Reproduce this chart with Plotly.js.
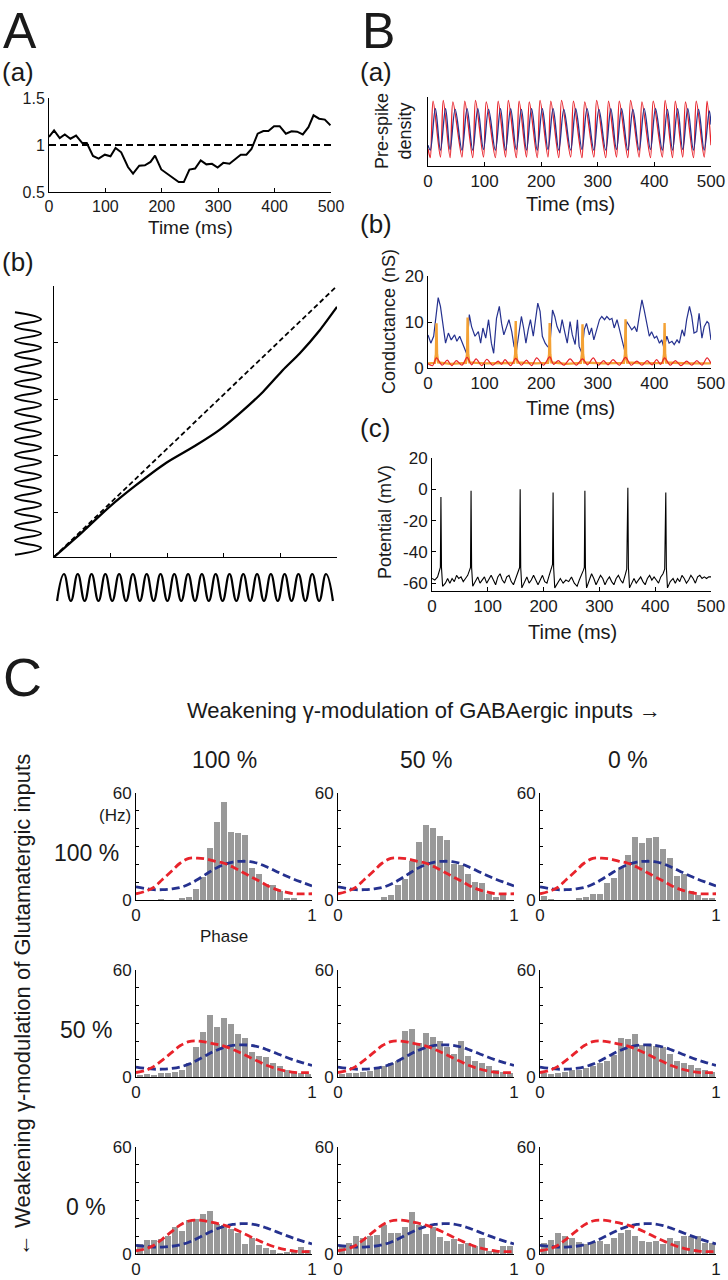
<!DOCTYPE html>
<html><head><meta charset="utf-8">
<script src="https://cdn.plot.ly/plotly-3.0.1.min.js"></script>
<style>html,body{margin:0;padding:0;background:#fff}#chart{width:728px;height:1280px}</style>
</head><body><div id="chart"></div>
<script>
// ---------------- DATA ----------------
// A(a): ratio vs time
const aaTime = [0,9,19,28,38,48,59,67,78,88,99,109,118,128,140,149,160,170,180,188,199,208,218,230,239,249,259,269,279,289,299,309,320,330,340,350,359,370,380,389,399,409,420,430,440,450,460,469,479,489,499];
const aaRatio = [1.085,1.156,1.074,1.113,1.067,1.10,1.02,1.02,0.883,0.855,0.897,0.88,0.968,0.922,0.766,0.695,0.78,0.784,0.82,0.887,0.74,0.70,0.66,0.606,0.606,0.738,0.75,0.837,0.794,0.80,0.76,0.81,0.80,0.844,0.897,0.897,0.957,1.12,1.149,1.149,1.20,1.20,1.12,1.145,1.142,1.113,1.19,1.316,1.28,1.27,1.21];
const aaRef = 1;
const aaTimeRange = [0, 500];
const aaTicksX = [0,100,200,300,400,500];
const aaTicksY = [0.5,1,1.5];
const aaTickTextY = ['0.5','1','1.5'];

// A(b): input-output phase map (normalised)
const abIn  = [0,0.102,0.197,0.291,0.397,0.503,0.585,0.656,0.739,0.809,0.868,0.939,1.0];
const abOut = [0,0.094,0.186,0.266,0.348,0.413,0.469,0.530,0.610,0.690,0.751,0.837,0.923];
const abDiag = [0, 1];
const abTicksX = [0,0.2,0.4,0.6,0.8,1];
const abTicksY = [0.166,0.374,0.583,0.791];
// schematic oscillations (extrema sequence)
const lwPos = [0,1,2,3,4,5,6,7,8,9,10,11,12,13,14,15,16,17,18,19,20,21,22,23,24,25,26,27,28,29,30,31,32,33,34];
const lwAmp = [-1,1,-1,1,-1,1,-1,1,-1,1,-1,1,-1,1,-1,1,-1,1,-1,1,-1,1,-1,1,-1,1,-1,1,-1,1,-1,1,-1,1,-1];
const bwPos = [0,1,2,3,4,5,6,7,8,9,10,11,12,13,14,15,16,17,18,19,20,21,22,23,24,25,26,27,28,29,30,31,32,33,34,35,36,37,38,39,40];
const bwAmp = [-1,1,-1,1,-1,1,-1,1,-1,1,-1,1,-1,1,-1,1,-1,1,-1,1,-1,1,-1,1,-1,1,-1,1,-1,1,-1,1,-1,1,-1,1,-1,1,-1,1,-1];

// B(a): pre-spike density (normalised)
const baRedT = [0,4,9,22,27,39,44,60,65,79,84,98,103,119,124,137,142,156,161,174,179,193,198,212,217,231,236,252,257,272,277,293,298,314,319,333,338,353,358,373,378,393,398,414,419,432,437,450,455,469,474,488,493,500];
const baRedV = [0.25,0.12,0.94,0.13,0.95,0.12,0.93,0.13,0.94,0.12,0.95,0.13,0.93,0.12,0.94,0.13,0.95,0.12,0.94,0.13,0.93,0.12,0.95,0.13,0.94,0.12,0.95,0.13,0.94,0.12,0.93,0.13,0.95,0.12,0.94,0.13,0.94,0.12,0.95,0.13,0.93,0.12,0.94,0.13,0.95,0.12,0.94,0.13,0.93,0.12,0.94,0.13,0.94,0.30];
const baBlueT = [0,4,13,22,31,39,48,60,69,79,88,98,107,119,128,137,146,156,165,174,183,193,202,212,221,231,240,252,261,272,281,293,302,314,323,333,342,353,362,373,382,393,402,414,423,432,441,450,459,469,478,488,497,500];
const baBlueV = [0.30,0.23,0.83,0.23,0.83,0.24,0.82,0.23,0.83,0.23,0.83,0.24,0.82,0.23,0.83,0.23,0.83,0.24,0.82,0.23,0.83,0.23,0.83,0.24,0.83,0.23,0.82,0.23,0.83,0.24,0.83,0.23,0.82,0.23,0.83,0.24,0.83,0.23,0.82,0.23,0.83,0.24,0.83,0.23,0.82,0.23,0.83,0.24,0.83,0.23,0.82,0.23,0.80,0.60];

// B(b): conductances (nS)
const bbBlueT = [0,5,10,15,18,22,27,31,36,41,47,51,56,61,68,73,77,83,89,93,97,102,107,112,116,121,126,130,134,139,143,148,152,156,161,165,169,173,177,181,186,190,194,198,202,207,211,215,220,224,228,233,237,242,246,251,255,260,264,267,272,276,280,285,289,293,298,303,307,312,316,321,325,329,334,338,342,347,351,356,360,365,369,374,378,382,387,391,395,400,404,409,413,417,422,426,431,435,440,444,449,453,457,462,466,470,475,479,484,488,493,496,500];
const bbBlueV = [7.2,5.4,6.9,12.6,15.3,13.4,9.0,5.4,7.6,6.1,7.2,5.8,6.9,5.4,3.2,11.6,9.0,6.9,7.9,5.4,8.7,6.5,10.5,5.4,3.2,10.8,13.4,9.7,7.2,9.0,10.5,7.9,4.7,3.6,7.6,11.2,8.7,5.4,8.3,10.5,6.9,10.5,14.1,12.3,6.9,5.4,4.7,4.3,12.6,11.2,9.0,7.6,10.5,7.6,5.4,10.1,7.2,5.1,10.5,4.7,3.2,8.3,9.7,7.2,8.7,6.1,8.3,10.5,11.2,10.5,11.2,10.5,10.8,8.7,10.5,8.3,6.1,4.0,10.1,9.0,8.3,9.0,7.9,11.9,14.8,12.6,9.0,6.9,7.9,6.5,6.9,5.4,6.1,4.3,6.9,5.4,5.8,5.1,6.1,5.4,8.3,6.9,10.5,13.4,11.2,7.6,7.9,11.9,6.5,9.0,10.1,9.7,6.1];
const bbRedT = [0,8,15,25,34,42,50,60,69,77,85,95,104,114,124,130,136,146,155,165,174,183,192,204,215,222,230,240,251,262,273,282,292,301,310,318,327,338,349,359,369,378,387,396,404,411,418,428,437,447,457,466,475,484,493,500];
const bbRedV = [0.9,0.5,2.2,0.6,1.7,0.5,1.6,0.6,2.3,0.7,2.0,0.5,1.9,0.6,1.5,0.8,1.8,0.5,2.1,0.6,1.7,0.5,2.2,0.6,2.4,0.8,1.6,0.6,2.0,0.6,2.0,0.7,2.2,0.6,1.6,0.7,1.8,0.6,2.3,0.6,1.5,0.6,1.6,0.7,1.8,0.8,2.2,0.6,1.6,0.5,1.5,0.6,1.6,0.6,2.2,1.0];
const bbOrT = [0,12,14,15,16,18,40,67,69,70,71,73,100,152,154,155,156,158,190,212,214,215,216,218,245,270,272,273,274,276,310,346,348,349,350,352,385,415,417,418,419,421,460,500];
const bbOrV = [1.0,1.1,3,9.7,3,1.2,0.9,1.1,3,11.0,3,1.2,1.0,1.1,3,10.2,3,1.2,1.0,1.1,3,9.8,3,1.2,0.9,1.1,3,9.5,3,1.2,1.0,1.1,3,10.6,3,1.2,1.0,1.1,3,9.8,3,1.2,1.0,1.0];

// B(c): membrane potential (mV)
const bcT = [0,5,10,13,15,16,17,19,24,28,32,36,40,44,48,52,56,60,64,67,69,70,71,73,78,82,86,90,94,98,102,106,110,114,118,122,126,130,134,138,142,146,150,154,157,158,159,161,166,170,174,178,182,186,190,194,198,202,206,210,214,216,217,218,220,225,230,235,240,245,250,255,260,264,268,271,273,274,275,277,282,286,290,294,298,302,306,310,314,318,322,326,330,334,338,342,346,349,351,352,354,358,362,366,370,374,378,382,386,390,394,398,402,406,410,414,417,419,420,422,427,432,436,440,444,448,452,456,460,464,468,472,476,480,484,488,492,496,500];
const bcV = [-57,-58,-56,-53,-50,-5,-50,-62,-60,-57,-60,-57,-59,-55,-57,-56,-59,-57,-55,-52,-50,-1,-50,-62,-59,-56,-60,-58,-56,-60,-57,-55,-58,-61,-56,-54,-58,-60,-56,-55,-59,-61,-57,-53,-50,0,-50,-63,-59,-56,-60,-58,-55,-58,-61,-58,-55,-59,-60,-55,-51,-48,-2,-50,-63,-60,-57,-60,-58,-59,-56,-60,-62,-58,-55,-52,-50,-1,-50,-63,-58,-54,-57,-61,-58,-55,-57,-61,-58,-56,-59,-61,-57,-55,-58,-60,-55,-51,1,-50,-63,-60,-57,-60,-58,-56,-59,-61,-57,-55,-58,-56,-58,-60,-56,-54,-51,-2,-50,-63,-59,-57,-60,-57,-59,-55,-57,-60,-58,-55,-57,-60,-56,-55,-57,-56,-57,-56,-56];
const timeTicks = [0,100,200,300,400,500];

// C: phase histograms (Hz), 25 bins
const phaseBins = [0.02,0.06,0.10,0.14,0.18,0.22,0.26,0.30,0.34,0.38,0.42,0.46,0.50,0.54,0.58,0.62,0.66,0.70,0.74,0.78,0.82,0.86,0.90,0.94,0.98];
const c11 = [0,0,0,0.5,0,0,1.2,1.8,6,13,29,44,55,38,37.5,36.5,18,14.5,9,8.5,4.8,1.2,1.2,0,0];
const c12 = [0,0,0,0,0,0,1.8,3,8.3,11.5,21.7,32.6,41.8,40.6,35.8,33.5,20.3,19.4,14.6,10,9.7,3.5,1.8,2.6,0];
const c13 = [2.3,0.5,0,0,0,1,1.8,3.2,3.2,9.7,12.3,18,25.2,35.3,31.7,34.9,35.3,28.6,23.8,13.2,14.6,4.8,3,1.2,1.2];
const c21 = [1,1.5,1,2,2,3,4,8,17,25,35,28,33,29.5,24,22,14,12,11,8,6,4,3,2,1.5];
const c22 = [1.5,2,2.5,3,3.5,5,6,8,9,25.8,26.7,19.2,24.5,22.2,20.2,16.6,13,20.2,12,9,8,6,4,3,2.5];
const c23 = [2,1.5,2.5,3,4,4,5,6,8,9,12.3,21.7,21.3,24,18,18.3,17.6,17,12.7,9,8,7,5,4,3];
const c31 = [5.4,7.7,7.7,8.4,10.2,14.9,13.1,18.8,19.7,22.4,24.2,17,16.1,13.8,11.6,5.7,9,4.8,3.6,2.3,0.5,0.9,2.3,4.1,2.2];
const c32 = [4.5,6.3,9.9,9,10.2,10.8,16.1,11.6,11.6,15.2,23.3,16.1,11.3,15.2,9.5,7.2,8.4,5.4,5.9,4.5,9,1.8,0.9,4.5,4.5];
const c33 = [5.9,8.1,12,9.9,9,6.6,5.4,6.6,7.2,5.7,9,12,13.4,9.9,7.2,6.6,7.5,5.7,9,7.2,9.9,9.9,10.2,6.3,6.3];
// input modulation curves (Hz) at phases 0..1
const curvePhase = [0,0.05,0.1,0.15,0.2,0.25,0.3,0.35,0.4,0.45,0.5,0.55,0.6,0.65,0.7,0.75,0.8,0.85,0.9,0.95,1];
const red1  = [3.5,4.8,7,11.5,16,20.6,23.3,23.5,23,21.7,20.6,18.5,15.9,13.2,10.6,7.9,5.8,4.4,3.5,3.4,3.5];
const blue1 = [7.4,6.5,5.8,5.8,6.2,7,8.8,11.5,14.6,17.6,19.9,21.3,21.7,21.5,20.3,18.2,15.9,13.6,11.5,9.7,7.9];
const red2  = [2.5,3.6,5.8,9.5,13.5,17.5,19.8,20.2,19.5,18.5,17.3,15.5,13.2,10.8,8.5,6.3,4.6,3.4,2.6,2.4,2.5];
const blue2 = [5.6,4.9,4.4,4.4,4.8,5.6,7.2,9.5,12.2,14.7,16.6,17.7,18,17.8,16.8,15.1,13.2,11.2,9.4,7.9,6.5];
const red3  = [1.8,2.8,4.8,8.4,12.4,16.2,18.5,19.0,18.4,17.4,16.2,14.4,12.1,9.7,7.4,5.3,3.6,2.4,1.6,1.3,1.3];
const blue3 = [4.8,4.3,3.9,3.9,4.3,5.1,6.6,8.8,11.3,13.7,15.5,16.6,17.0,16.9,15.9,14.3,12.4,10.5,8.7,7.1,5.7];
const hzTicks = [0,10,20,30,40,50,60];
const hzTickText = ['0','','','','','','60'];
const phaseTicks = [0,1];
const phaseTickText = ['0','1'];
const colLabels = ['100 %','50 %','0 %'];
const rowLabels = ['100 %','50 %','0 %'];

// ---------------- LAYOUT HELPERS ----------------
const W = 728, H = 1280;
const FONT = 'Liberation Sans, Arial, Helvetica, sans-serif';
const TXT = '#1a1a1a';
const RED = '#e8232b', BLUE = '#25318f', ORANGE = '#f4a235';
function dx(a,b){ return [a/W, b/W]; }
function dy(top,bottom){ return [1-bottom/H, 1-top/H]; }
function tf(s){ return {family:FONT, size:s, color:TXT}; }
function ax(o){
  return Object.assign({showgrid:false, zeroline:false, showline:true, linecolor:'#000', linewidth:1,
    ticks:'inside', ticklen:4, tickwidth:1, tickcolor:'#000',
    tickfont:tf(16), fixedrange:true, tickmode:'array'}, o);
}
function ann(text, px, py, size, extra){
  return Object.assign({text:text, x:px/W, y:1-py/H, xref:'paper', yref:'paper', showarrow:false,
    font:tf(size), xanchor:'center', yanchor:'middle'}, extra||{});
}

const traces = [];
const layout = {width:W, height:H, margin:{l:0,r:0,t:0,b:0}, paper_bgcolor:'#fff', plot_bgcolor:'rgba(0,0,0,0)',
  showlegend:false, annotations:[], bargap:0};

function setAxes(n, xo, yo){
  const xs = n===1 ? 'xaxis' : 'xaxis'+n, ys = n===1 ? 'yaxis' : 'yaxis'+n;
  const xa = n===1 ? 'x' : 'x'+n, ya = n===1 ? 'y' : 'y'+n;
  layout[xs] = ax(Object.assign({anchor:ya}, xo));
  layout[ys] = ax(Object.assign({anchor:xa}, yo));
  return [xa, ya];
}

// ---- A(a)
let [xa, ya] = setAxes(1,
  {domain:dx(49,331), range:aaTimeRange, tickvals:aaTicksX, tickfont:tf(16)},
  {domain:dy(98,192), range:[0.5,1.5], tickvals:aaTicksY, ticktext:aaTickTextY, tickfont:tf(16)});
traces.push({type:'scatter', mode:'lines', x:aaTimeRange, y:[aaRef,aaRef], xaxis:xa, yaxis:ya, line:{color:'#000', width:1.8, dash:'7px,4px'}});
traces.push({type:'scatter', mode:'lines', x:aaTime, y:aaRatio, xaxis:xa, yaxis:ya, line:{color:'#000', width:2}});

// ---- A(b)
[xa, ya] = setAxes(2,
  {domain:dx(54,337), range:[0,1], tickvals:abTicksX, showticklabels:false},
  {domain:dy(286,557), range:[0,1], tickvals:abTicksY, showticklabels:false});
traces.push({type:'scatter', mode:'lines', x:abDiag, y:abDiag, xaxis:xa, yaxis:ya, line:{color:'#000', width:1.8, dash:'5px,3px'}});
traces.push({type:'scatter', mode:'lines', x:abIn, y:abOut, xaxis:xa, yaxis:ya, line:{color:'#000', width:2.3, shape:'spline', smoothing:0.6}});

[xa, ya] = setAxes(3, {domain:dx(13,43), range:[-1.15,1.15], visible:false}, {domain:dy(310,557), range:[-0.3,34.3], visible:false});
traces.push({type:'scatter', mode:'lines', x:lwAmp, y:lwPos, xaxis:xa, yaxis:ya, line:{color:'#000', width:2, shape:'spline', smoothing:1.3}});
[xa, ya] = setAxes(4, {domain:dx(55,335), range:[-0.3,40.3], visible:false}, {domain:dy(572,603), range:[-1.15,1.15], visible:false});
traces.push({type:'scatter', mode:'lines', x:bwPos, y:bwAmp, xaxis:xa, yaxis:ya, line:{color:'#000', width:2.2, shape:'spline', smoothing:1.3}});

// ---- B(a)
[xa, ya] = setAxes(5,
  {domain:dx(428,711), range:[0,500], tickvals:timeTicks, tickfont:tf(17)},
  {domain:dy(97,166), range:[0,1], tickvals:[], showticklabels:false});
traces.push({type:'scatter', mode:'lines', x:baRedT, y:baRedV, xaxis:xa, yaxis:ya, line:{color:RED, width:1.3, shape:'spline', smoothing:0.9}});
traces.push({type:'scatter', mode:'lines', x:baBlueT, y:baBlueV, xaxis:xa, yaxis:ya, line:{color:BLUE, width:1.3, shape:'spline', smoothing:1}});

// ---- B(b)
[xa, ya] = setAxes(6,
  {domain:dx(428,711), range:[0,500], tickvals:timeTicks, tickfont:tf(17)},
  {domain:dy(276,368), range:[0,20], tickvals:[0,10,20], tickfont:tf(17)});
traces.push({type:'scatter', mode:'lines', x:bbBlueT, y:bbBlueV, xaxis:xa, yaxis:ya, line:{color:BLUE, width:1.2}});
traces.push({type:'scatter', mode:'lines', x:bbOrT, y:bbOrV, xaxis:xa, yaxis:ya, line:{color:ORANGE, width:2.4}});
traces.push({type:'scatter', mode:'lines', x:bbRedT, y:bbRedV, xaxis:xa, yaxis:ya, line:{color:RED, width:1.2, shape:'spline', smoothing:0.8}});

// ---- B(c)
[xa, ya] = setAxes(7,
  {domain:dx(432,711), range:[0,500], tickvals:timeTicks, tickfont:tf(17)},
  {domain:dy(458,591), range:[-65,20], tickvals:[-60,-40,-20,0,20], ticktext:['-60','-40','-20','0','20'], tickfont:tf(17)});
traces.push({type:'scatter', mode:'lines', x:bcT, y:bcV, xaxis:xa, yaxis:ya, line:{color:'#000', width:1.1}});

// ---- C grid
const cHist = [[c11,c12,c13],[c21,c22,c23],[c31,c32,c33]];
const cRed = [red1, red2, red3];
const cBlue = [blue1, blue2, blue3];
const colX = [[136,312],[338,514],[540,716]];
const rowY = [[793,900],[970,1077],[1147,1254]];
let n = 8;
for (let r=0; r<3; r++){
  for (let c=0; c<3; c++){
    [xa, ya] = setAxes(n,
      {domain:dx(colX[c][0], colX[c][1]), range:[0,1], tickvals:phaseTicks, ticktext:phaseTickText, ticklen:0, tickfont:tf(17)},
      {domain:dy(rowY[r][0], rowY[r][1]), range:[0,60], tickvals:hzTicks, ticktext:hzTickText, ticklen:3, tickfont:tf(17)});
    traces.push({type:'bar', x:phaseBins, y:cHist[r][c], width:0.034, xaxis:xa, yaxis:ya, marker:{color:'#999999', line:{width:0}}});
    traces.push({type:'scatter', mode:'lines', x:curvePhase, y:cBlue[r], xaxis:xa, yaxis:ya, line:{color:BLUE, width:2.8, dash:'8px,4px', shape:'spline'}});
    traces.push({type:'scatter', mode:'lines', x:curvePhase, y:cRed[r], xaxis:xa, yaxis:ya, line:{color:RED, width:2.8, dash:'8px,4px', shape:'spline'}});
    n++;
  }
}

// ---- text
const A = layout.annotations;
A.push(ann('A', 1, 31, 50, {xanchor:'left'}));
A.push(ann('(a)', 0, 72, 26, {xanchor:'left'}));
A.push(ann('(b)', 0, 262, 26, {xanchor:'left'}));
A.push(ann('Time (ms)', 190, 228, 19));
A.push(ann('B', 360, 31, 50, {xanchor:'left'}));
A.push(ann('(a)', 358, 72, 26, {xanchor:'left'}));
A.push(ann('(b)', 358, 224, 26, {xanchor:'left'}));
A.push(ann('(c)', 358, 428, 26, {xanchor:'left'}));
A.push(ann('Pre-spike<br>density', 394, 131, 18, {textangle:-90}));
A.push(ann('Time (ms)', 570, 204, 20));
A.push(ann('Conductance (nS)', 389, 322, 18, {textangle:-90}));
A.push(ann('Time (ms)', 570, 408, 20));
A.push(ann('Potential (mV)', 385, 522, 18, {textangle:-90}));
A.push(ann('Time (ms)', 572, 632, 20));
A.push(ann('C', 1, 677, 54, {xanchor:'left'}));
A.push(ann('Weakening γ-modulation of GABAergic inputs →', 424, 710, 22));
for (let c=0; c<3; c++) A.push(ann(colLabels[c], (colX[c][0]+colX[c][1])/2, 760, 23));
for (let r=0; r<3; r++) A.push(ann(rowLabels[r], 86, (rowY[r][0]+rowY[r][1])/2 + 6, 23));
A.push(ann('(Hz)', 133, 815, 17, {xanchor:'right'}));
A.push(ann('Phase', 224, 936, 17));
A.push(ann('← Weakening γ-modulation of Glutamatergic inputs', 22, 1005, 22, {textangle:-90}));

Plotly.newPlot('chart', traces, layout, {staticPlot:true, displayModeBar:false});
</script></body></html>
